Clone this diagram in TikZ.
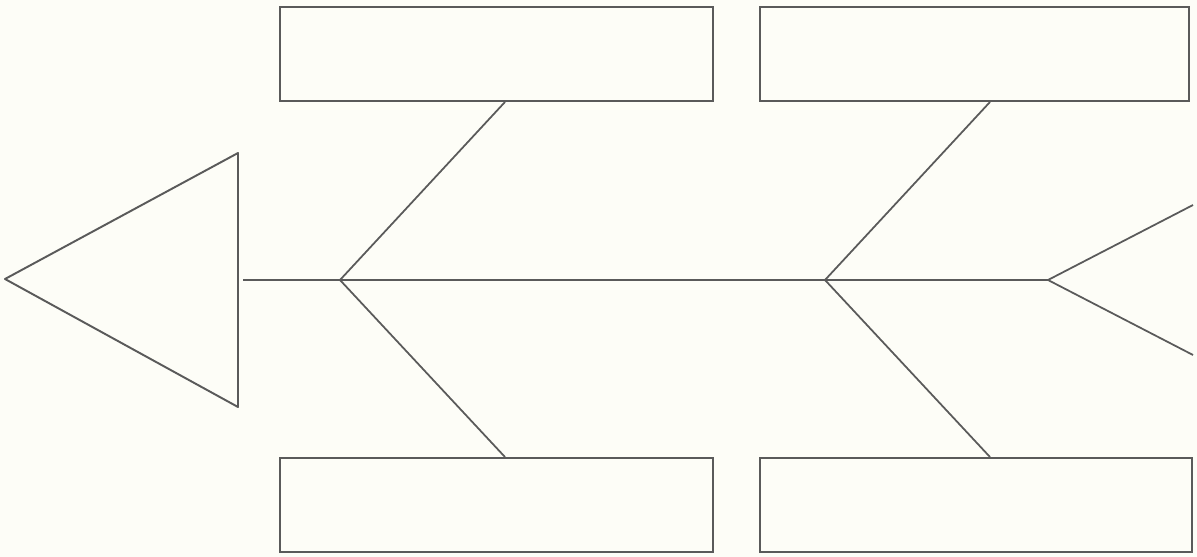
\documentclass[tikz,border=0pt]{standalone}
\usetikzlibrary{positioning}
\definecolor{paper}{HTML}{FDFDF7}
\definecolor{ink}{HTML}{5A5A5A}
\begin{document}
\begin{tikzpicture}[x=0.02cm, y=-0.02cm, color=ink, line width=1pt,
    box/.style={draw=ink, line width=1.1pt, inner sep=0pt, minimum height=1.88cm}]
    \fill[paper] (0,0) rectangle (1197,557);
    \useasboundingbox (0,0) rectangle (1197,557);

    % 頭
    \coordinate (tip) at (5,279);
    \coordinate (hu) at (238,153);
    \coordinate (hd) at (238,407);
    \draw[line width=1.1pt, line join=round] (tip) -- (hu) -- (hd) -- cycle;

    % 背骨
    \coordinate (s0) at (243,280);
    \coordinate (j1) at (340,280);
    \coordinate (j2) at (825,280);
    \coordinate (j3) at (1048,280);
    \draw (s0) -- (j3);

    % 箱
    \node[box, minimum width=8.66cm] (tl) at (496.5,54) {};
    \node[box, minimum width=8.58cm] (tr) at (974.5,54) {};
    \node[box, minimum width=8.66cm] (bl) at (496.5,505) {};
    \node[box, minimum width=8.64cm] (br) at (976,505) {};

    % 小骨
    \draw (j1) -- (tl.south -| 505,0);
    \draw (j1) -- (bl.north -| 505,0);
    \draw (j2) -- (tr.south -| 990,0);
    \draw (j2) -- (br.north -| 990,0);

    % 尾
    \coordinate (ta) at (1193,205);
    \coordinate (tb) at (1193,355);
    \draw (j3) -- (ta);
    \draw (j3) -- (tb);
  \end{tikzpicture}
\end{document}
